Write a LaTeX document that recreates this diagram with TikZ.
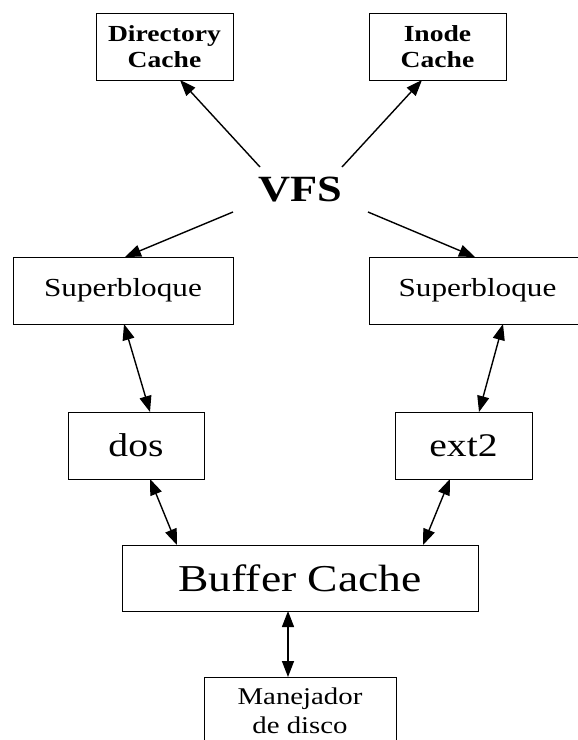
\documentclass[tikz,border=0pt]{standalone}
\usepackage{fontspec}
\setmainfont{Liberation Serif}[FakeStretch=1.2]
\usetikzlibrary{arrows.meta}
\begin{document}
\begin{tikzpicture}[x=1pt,y=-1pt,
  >={Stealth[length=16pt,width=12pt,inset=0pt]},
  box/.style={draw,line width=1pt,inner sep=0pt,outer sep=0pt,align=center},
  conn/.style={line width=1.4pt}]
\useasboundingbox (0,0) rectangle (578,740);
\clip (0,0) rectangle (578,740);
\node[box,minimum width=137pt,minimum height=67pt,font=\fontsize{23}{26}\selectfont\bfseries] (dir) at (164.5,46.5) {Directory\\Cache};
\node[box,minimum width=137pt,minimum height=67pt,font=\fontsize{23}{26}\selectfont\bfseries] (ino) at (437.5,46.5) {Inode\\Cache};
\node[inner sep=0pt,outer sep=0pt,minimum width=135pt,minimum height=45pt,font=\fontsize{37}{40}\selectfont\bfseries] (vfs) at (300.5,189.5) {VFS};
\node[box,minimum width=220pt,minimum height=67pt,font=\fontsize{26}{30}\selectfont] (sbl) at (123,290.5) {Superbloque};
\node[box,minimum width=217pt,minimum height=67pt,font=\fontsize{26}{30}\selectfont] (sbr) at (477.5,290.5) {Superbloque};
\node[box,minimum width=136pt,minimum height=67pt,font=\fontsize{33}{36}\selectfont] (dos) at (136,445.5) {dos};
\node[box,minimum width=137pt,minimum height=67pt,font=\fontsize{33}{36}\selectfont] (ext) at (463.5,445.5) {ext2};
\node[box,minimum width=356pt,minimum height=66pt,font=\fontsize{38}{40}\selectfont] (buf) at (300,578) {Buffer Cache};
\node[box,minimum width=192pt,minimum height=67pt,font=\fontsize{24}{29}\selectfont] (man) at (300,710.5) {Manejador\\de disco};
% connectors
\draw[conn,->] ([xshift=-40.5pt]vfs.north) -- ([xshift=15.5pt]dir.south);
\draw[conn,->] ([xshift=41.5pt]vfs.north) -- ([xshift=-15.5pt]ino.south);
\draw[conn,->] (vfs.south west) -- ([xshift=2pt]sbl.north);
\draw[conn,->] (vfs.south east) -- ([xshift=-2.5pt]sbr.north);
\draw[conn,<->] ([xshift=1pt]sbl.south) -- ([xshift=14pt]dos.north);
\draw[conn,<->] ([xshift=25.5pt]sbr.south) -- ([xshift=15.5pt]ext.north);
\draw[conn,<->] ([xshift=14pt]dos.south) -- ([xshift=-123pt]buf.north);
\draw[conn,<->] ([xshift=-13.5pt]ext.south) -- ([xshift=123pt]buf.north);
\draw[conn,<->] ([xshift=-12pt]buf.south) -- ([xshift=-12pt]man.north);
\end{tikzpicture}
\end{document}
